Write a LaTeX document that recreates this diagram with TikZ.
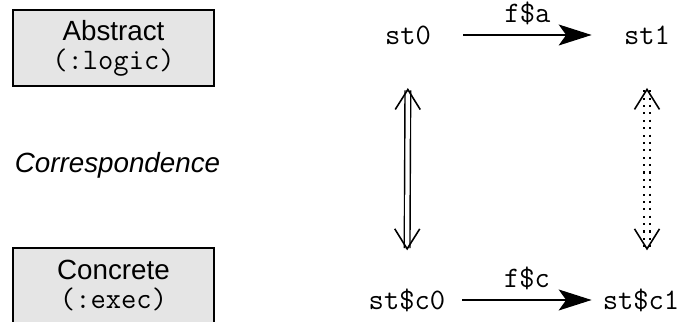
\documentclass[tikz,border=0pt]{standalone}
\usepackage{fontspec}
\setmainfont{Liberation Sans}
\setmonofont[Scale=1.07]{Latin Modern Mono}
\usetikzlibrary{positioning, arrows.meta}

\begin{document}
\fontsize{15.8}{16.5}\selectfont
\begin{tikzpicture}[
    level/.style={draw, line width=1.1pt, fill=black!10, minimum width=4.02cm, minimum height=1.52cm, align=center},
    state/.style={font=\ttfamily, minimum width=2.2cm, minimum height=0.6cm},
    stepto/.style={-{Stealth[length=0.66cm, width=0.42cm, inset=0.15cm]}, line width=0.75pt},
    corr/.style={{Straight Barb[length=0.4cm, width=0.5cm, line width=0.9pt]}-{Straight Barb[length=0.4cm, width=0.5cm, line width=0.9pt]},
                 double, double distance=0.085cm, line width=0.8pt, shorten <=0.68cm, shorten >=0.57cm}
]
    \useasboundingbox (0,0) rectangle (13.7,6.44);

    %% left
    \begin{scope}
        \clip (0,0) rectangle (13.7,6.44);
        \node[level] (abs) at (2.27,5.48) {Abstract\\\texttt{(:logic)}};
        \node[level] (con) at (2.27,0.72) {Concrete\\\texttt{(:exec)}};
    \end{scope}
    \node (corresp) at (2.35,3.14) {\itshape Correspondence};

    %% right square
    \node[state] (st0) at (8.16,5.74) {st0};
    \node[state] (st1) at (12.94,5.74) {st1};
    \node[state] (stc0) at (8.14,0.44) {st\$c0};
    \node[state] (stc1) at (12.82,0.44) {st\$c1};

    \draw[stepto] (st0) -- node[above, font=\ttfamily] {f\$a} (st1);
    \draw[stepto] (stc0) -- node[above, font=\ttfamily] {f\$c} (stc1.west -| st1.west);
    \draw[corr] (st0.south) -- (stc0.north);
    \draw[corr, dash pattern=on 1.2pt off 3pt] (st1.south) -- (st1.south |- stc1.north);
\end{tikzpicture}
\end{document}
